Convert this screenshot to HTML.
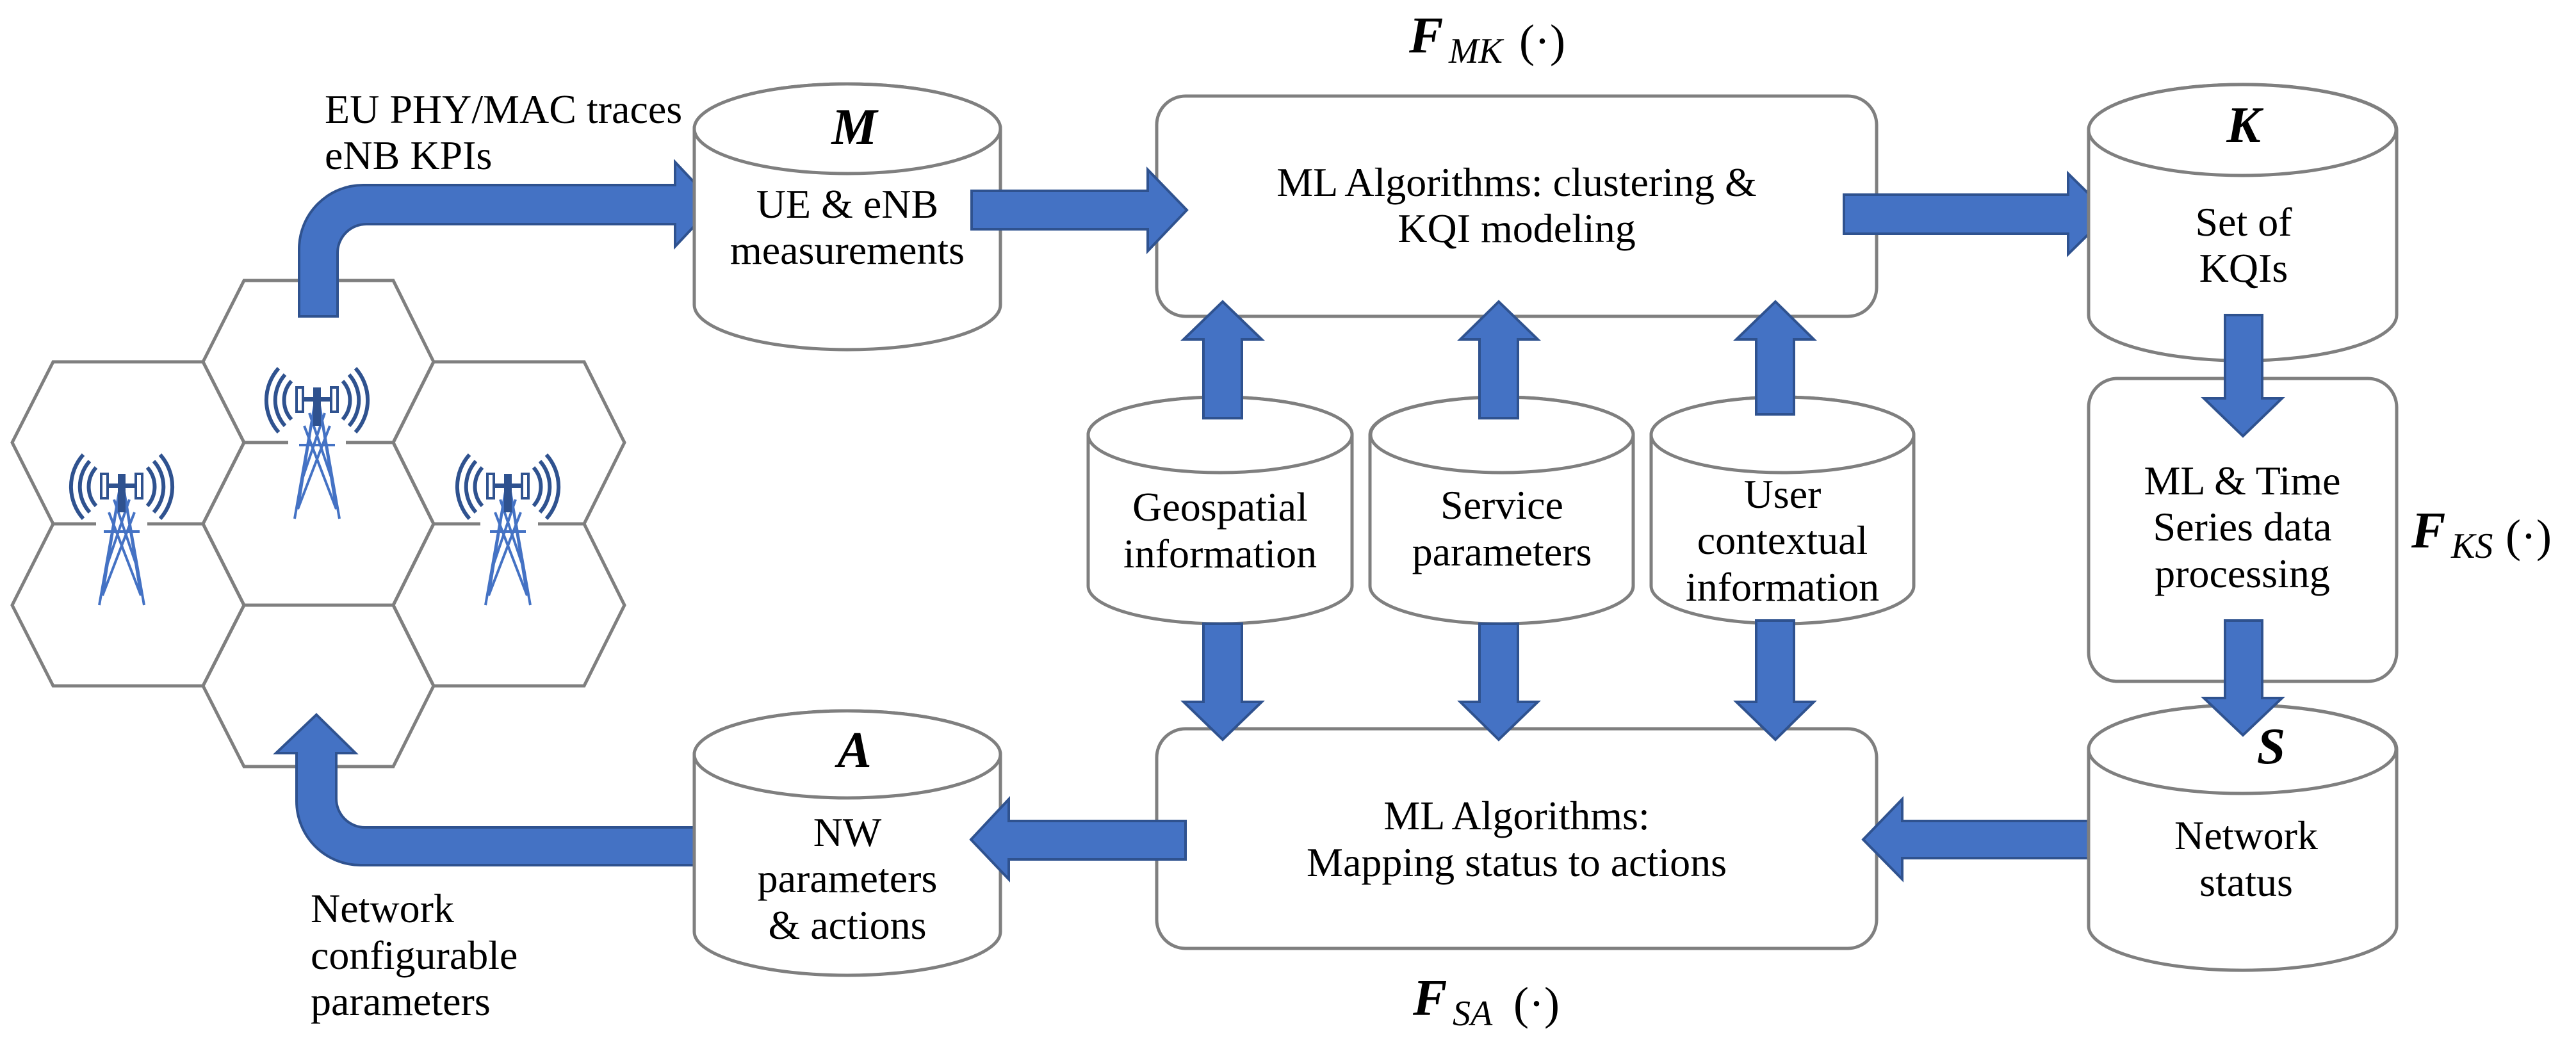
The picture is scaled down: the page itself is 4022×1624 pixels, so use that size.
<!DOCTYPE html>
<html><head><meta charset="utf-8"><style>
html,body{margin:0;padding:0;background:#fff}
svg{display:block;font-family:"Liberation Serif","DejaVu Serif",serif}
svg text{font-family:"Liberation Serif","DejaVu Serif",serif;font-size:64px;fill:#000}
.c{text-anchor:middle}
.cyl,.box{fill:#fff;stroke:#7f7f7f;stroke-width:5}
.ar{fill:#4472C4;stroke:#2F528F;stroke-width:4;stroke-linejoin:miter}
.hex{fill:none;stroke:#7f7f7f;stroke-width:5}
svg text.sym{font-style:italic;font-weight:bold;font-size:80px}
svg text.F{font-style:italic;font-weight:bold;font-size:80px}
svg text.sub{font-style:italic;font-size:56px}
svg text.p{font-size:72px}
.tw{stroke:#4472C4;stroke-width:4;fill:none}
</style></head><body>
<svg width="4022" height="1624" viewBox="0 0 4022 1624" xmlns="http://www.w3.org/2000/svg" font-family="Liberation Serif, serif">
<defs>
<g id="tower">
 <path class="tw" d="M0,5 L-35,205 M0,5 L35,205 M-6,40 L-30,190 M6,40 L30,190 M-28,90 L28,90 M-20,60 L30,190 M20,60 L-30,190 M-12,40 L22,140 M12,40 L-22,140"/>
 <rect x="-6" y="0" width="12" height="60" fill="#2F528F"/>
 <rect x="-30" y="15" width="60" height="7" fill="#2F528F"/>
 <rect x="-32" y="0" width="10" height="38" fill="#fff" stroke="#2F528F" stroke-width="4"/>
 <rect x="22" y="0" width="10" height="38" fill="#fff" stroke="#2F528F" stroke-width="4"/>
 <path d="M-40,-10 A45,45 0 0 0 -40,50 M-50,-20 A60,60 0 0 0 -50,60 M-60,-30 A75,75 0 0 0 -60,70 M40,-10 A45,45 0 0 1 40,50 M50,-20 A60,60 0 0 1 50,60 M60,-30 A75,75 0 0 1 60,70" stroke="#2F528F" stroke-width="6" fill="none"/>
</g>
</defs>

<g class="hex">
<polygon points="83,565 317,565 381,691 317,818 83,818 19,691"/>
<polygon points="83,818 317,818 381,945 317,1071 83,1071 19,945"/>
<polygon points="381,438 614,438 677,565 614,691 381,691 317,565"/>
<polygon points="381,691 614,691 677,818 614,945 381,945 317,818"/>
<polygon points="381,945 614,945 677,1071 614,1197 381,1197 317,1071"/>
<polygon points="677,565 912,565 975,691 912,818 677,818 614,691"/>
<polygon points="677,818 912,818 975,945 912,1071 677,1071 614,945"/>
</g>
<rect x="150" y="812" width="80" height="12" fill="#fff"/>
<rect x="450" y="685" width="90" height="12" fill="#fff"/>
<rect x="750" y="812" width="90" height="12" fill="#fff"/>
<use href="#tower" x="190" y="740"/>
<use href="#tower" x="495" y="605"/>
<use href="#tower" x="793" y="740"/>

<path class="ar" d="M467,494 L467,389 A100,100 0 0 1 567,289 L1054,289 L1054,253 L1116,319 L1054,385 L1054,350 L572,350 A45,45 0 0 0 527,395 L527,494 Z"/>
<path class="ar" d="M1113,1292 L570,1292 A45,45 0 0 1 525,1247 L525,1176 L555,1176 L494,1116 L431,1176 L463,1176 L463,1251 A100,100 0 0 0 563,1351 L1113,1351 Z"/>

<text x="507" y="192">EU PHY/MAC traces</text>
<text x="507" y="264">eNB KPIs</text>
<text x="485" y="1440">Network</text>
<text x="485" y="1513">configurable</text>
<text x="485" y="1585">parameters</text>

<path class="cyl" d="M1084,201 A239,70 0 0 1 1562,201 L1562,476 A239,70 0 0 1 1084,476 Z"/>
<ellipse class="cyl" cx="1323" cy="201" rx="239" ry="70"/>
<text class="sym c" x="1334" y="225">M</text>
<text class="c" x="1323" y="340">UE &amp; eNB</text>
<text class="c" x="1323" y="412">measurements</text>

<path class="cyl" d="M1084,1178 A239,68 0 0 1 1562,1178 L1562,1455 A239,68 0 0 1 1084,1455 Z"/>
<ellipse class="cyl" cx="1323" cy="1178" rx="239" ry="68"/>
<text class="sym c" x="1334" y="1198">A</text>
<text class="c" x="1323" y="1321">NW</text>
<text class="c" x="1323" y="1393">parameters</text>
<text class="c" x="1323" y="1466">&amp; actions</text>

<rect class="box" x="1806" y="150" width="1124" height="344" rx="45"/>
<text class="c" x="2368" y="306">ML Algorithms: clustering &amp;</text>
<text class="c" x="2368" y="378">KQI modeling</text>
<text class="F" x="2200" y="82">F</text><text class="sub" x="2262" y="98">MK</text><text class="p" x="2372" y="88">(·)</text>

<rect class="box" x="1806" y="1138" width="1124" height="343" rx="45"/>
<text class="c" x="2368" y="1295">ML Algorithms:</text>
<text class="c" x="2368" y="1368">Mapping status to actions</text>
<text class="F" x="2206" y="1585">F</text><text class="sub" x="2268" y="1601">SA</text><text class="p" x="2363" y="1591">(·)</text>

<path class="cyl" d="M1699,679 A206,59 0 0 1 2111,679 L2111,915 A206,59 0 0 1 1699,915 Z"/>
<ellipse class="cyl" cx="1905" cy="679" rx="206" ry="59"/>
<path class="cyl" d="M2139,679 A205,59 0 0 1 2550,679 L2550,915 A205,59 0 0 1 2139,915 Z"/>
<ellipse class="cyl" cx="2345" cy="679" rx="205" ry="59"/>
<path class="cyl" d="M2578,679 A205,59 0 0 1 2988,679 L2988,915 A205,59 0 0 1 2578,915 Z"/>
<ellipse class="cyl" cx="2783" cy="679" rx="205" ry="59"/>
<text class="c" x="1905" y="813">Geospatial</text>
<text class="c" x="1905" y="886">information</text>
<text class="c" x="2345" y="810">Service</text>
<text class="c" x="2345" y="883">parameters</text>
<text class="c" x="2783" y="793">User</text>
<text class="c" x="2783" y="865">contextual</text>
<text class="c" x="2783" y="938">information</text>

<polygon class="ar" points="1879,653 1879,530 1848,530 1909,471 1970,530 1939,530 1939,653"/>
<polygon class="ar" points="2310,653 2310,530 2280,530 2340,471 2401,530 2370,530 2370,653"/>
<polygon class="ar" points="2742,647 2742,530 2711,530 2772,471 2832,530 2801,530 2801,647"/>
<polygon class="ar" points="1879,974 1879,1096 1848,1096 1909,1155 1970,1096 1939,1096 1939,974"/>
<polygon class="ar" points="2310,974 2310,1096 2280,1096 2340,1155 2401,1096 2370,1096 2370,974"/>
<polygon class="ar" points="2742,969 2742,1096 2711,1096 2772,1155 2832,1096 2801,1096 2801,969"/>

<polygon class="ar" points="1517,298 1792,298 1792,265 1853,328 1792,392 1792,358 1517,358"/>
<polygon class="ar" points="2879,304 3229,304 3229,271 3293,334 3229,397 3229,365 2879,365"/>
<polygon class="ar" points="3319,1282 2970,1282 2970,1248 2909,1311 2970,1373 2970,1340 3319,1340"/>
<polygon class="ar" points="1851,1282 1575,1282 1575,1248 1516,1311 1575,1373 1575,1342 1851,1342"/>

<path class="cyl" d="M3261,203 A240,71 0 0 1 3742,203 L3742,492 A240,71 0 0 1 3261,492 Z"/>
<ellipse class="cyl" cx="3501" cy="203" rx="240" ry="71"/>
<text class="sym c" x="3503" y="222">K</text>
<text class="c" x="3503" y="368">Set of</text>
<text class="c" x="3503" y="440">KQIs</text>

<rect class="box" x="3261" y="591" width="481" height="473" rx="45"/>
<text class="c" x="3501" y="772">ML &amp; Time</text>
<text class="c" x="3501" y="844">Series data</text>
<text class="c" x="3501" y="917">processing</text>
<text class="F" x="3765" y="855">F</text><text class="sub" x="3827" y="871">KS</text><text class="p" x="3912" y="861">(·)</text>

<path class="cyl" d="M3261,1170 A240,69 0 0 1 3742,1170 L3742,1446 A240,69 0 0 1 3261,1446 Z"/>
<ellipse class="cyl" cx="3501" cy="1170" rx="240" ry="69"/>
<text class="c" x="3507" y="1326">Network</text>
<text class="c" x="3507" y="1399">status</text>

<polygon class="ar" points="3474,492 3532,492 3532,622 3563,622 3502,681 3441,622 3474,622"/>
<polygon class="ar" points="3474,969 3532,969 3532,1090 3563,1090 3502,1148 3441,1090 3474,1090"/>
<text class="sym c" x="3546" y="1192">S</text>
</svg>
</body></html>
